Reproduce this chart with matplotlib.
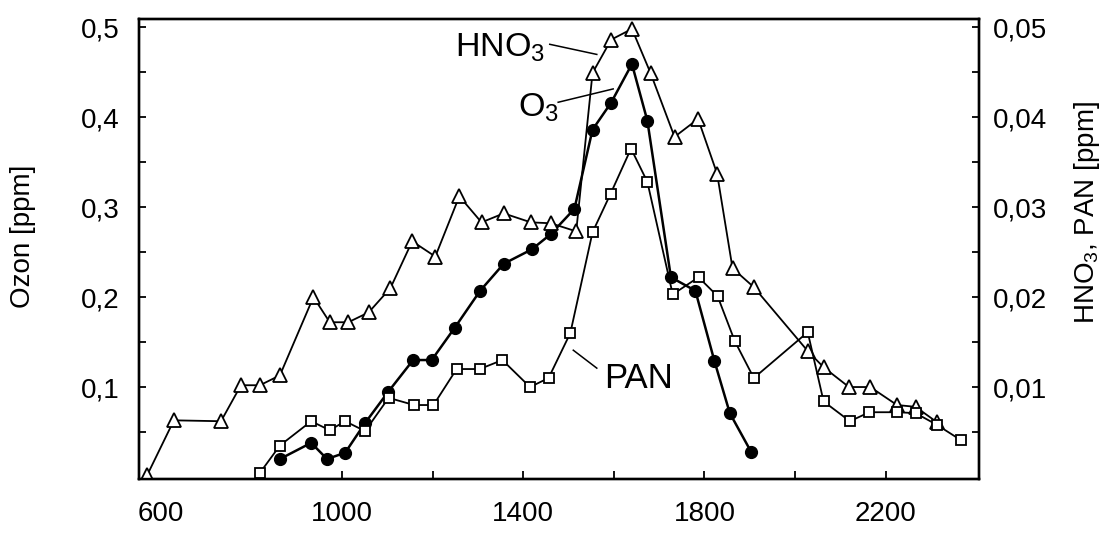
import matplotlib
matplotlib.use("Agg")
import matplotlib.pyplot as plt
from matplotlib.ticker import FixedLocator

plt.rcParams['font.family'] = ['Liberation Sans', 'DejaVu Sans']
plt.rcParams['mathtext.default'] = 'regular'

# Ozon (linke Achse, ppm)
o3_t = [863, 932, 967, 1007, 1051, 1101, 1157, 1198, 1249, 1305, 1357, 1419,
        1461, 1513, 1553, 1594, 1640, 1674, 1726, 1780, 1822, 1856, 1903]
o3 = [0.020, 0.038, 0.020, 0.027, 0.060, 0.094, 0.130, 0.130, 0.166, 0.207,
      0.237, 0.253, 0.270, 0.298, 0.386, 0.416, 0.459, 0.396, 0.222, 0.207,
      0.129, 0.071, 0.028]

# HNO3 (rechte Achse, ppm)
hno3_t = [570, 629, 733, 777, 819, 863, 937, 973, 1014, 1059, 1107, 1155,
          1206, 1259, 1308, 1357, 1417, 1461, 1517, 1553, 1594, 1640, 1681,
          1734, 1786, 1828, 1862, 1909, 2028, 2063, 2119, 2166, 2225, 2266, 2313]
hno3 = [0.0002, 0.0063, 0.0062, 0.0102, 0.0102, 0.0113, 0.0200, 0.0172,
        0.0172, 0.0183, 0.0210, 0.0262, 0.0245, 0.0312, 0.0283, 0.0293,
        0.0283, 0.0282, 0.0273, 0.0449, 0.0486, 0.0498, 0.0449, 0.0378,
        0.0398, 0.0337, 0.0232, 0.0211, 0.0140, 0.0122, 0.0100, 0.0100,
        0.0080, 0.0078, 0.0061]

# PAN (rechte Achse, ppm)
pan_t = [818, 863, 932, 973, 1007, 1051, 1103, 1159, 1202, 1253, 1304, 1354,
         1415, 1456, 1504, 1553, 1593, 1638, 1674, 1730, 1787, 1829, 1867,
         1909, 2028, 2063, 2121, 2164, 2225, 2266, 2313, 2366]
pan = [0.0004, 0.0035, 0.0062, 0.0052, 0.0062, 0.0051, 0.0088, 0.0080,
       0.0080, 0.0120, 0.0120, 0.0130, 0.0100, 0.0110, 0.0160, 0.0272,
       0.0315, 0.0365, 0.0328, 0.0203, 0.0222, 0.0201, 0.0151, 0.0110,
       0.0161, 0.0084, 0.0062, 0.0072, 0.0072, 0.0071, 0.0058, 0.0041]

x_ticks = [600, 1000, 1400, 1800, 2200]
x_minor = [1200, 1600, 2000]
y_ticks = [0.1, 0.2, 0.3, 0.4, 0.5]
y_labels = ['0,1', '0,2', '0,3', '0,4', '0,5']
y2_ticks = [0.01, 0.02, 0.03, 0.04, 0.05]
y2_labels = ['0,01', '0,02', '0,03', '0,04', '0,05']
y_minor = [0.05, 0.15, 0.25, 0.35, 0.45]

fig = plt.figure(figsize=(11.01, 5.33), dpi=100)
ax = fig.add_axes([139/1101, 1 - 479/533, 840/1101, 460/533])
ax2 = ax.twinx()

fs = 20
lw = 1.3

ax.plot(o3_t, o3, '-o', color='black', lw=1.8, ms=8.5, mfc='black', zorder=3)
ax2.plot(hno3_t, hno3, '-^', color='black', lw=lw, ms=9.5, mfc='white', mew=1.3)
ax2.plot(pan_t, pan, '-s', color='black', lw=lw, ms=7.5, mfc='white', mew=1.3)

ax.set_xlim(552, 2406)
ax.set_ylim(-0.0022, 0.509)
ax2.set_ylim(-0.00022, 0.0509)

ax.set_xticks(x_ticks)
ax.set_xticklabels([str(v) for v in x_ticks])
ax.xaxis.set_minor_locator(FixedLocator(x_minor))
ax.xaxis.get_major_ticks()[0].tick1line.set_visible(False)
ax.set_yticks(y_ticks)
ax.set_yticklabels(y_labels)
ax.yaxis.set_minor_locator(FixedLocator(y_minor))
ax2.set_yticks(y2_ticks)
ax2.set_yticklabels(y2_labels)
ax2.yaxis.set_minor_locator(FixedLocator([v / 10 for v in y_minor]))

ax.tick_params(axis='x', which='both', direction='in', top=False, length=6,
               width=1.3, labelsize=fs, pad=16)
ax.tick_params(axis='y', which='both', direction='in', right=False, length=5,
               width=1.3, labelsize=fs, pad=14)
ax2.tick_params(axis='y', which='both', direction='in', length=5, width=1.3,
                labelsize=fs, pad=10)
for a in (ax, ax2):
    for s in a.spines.values():
        s.set_linewidth(1.7)

fig.text(23/1101, 1 - 236/533, 'Ozon [ppm]', rotation=90, fontsize=fs,
         ha='center', va='center')
fig.text(1087/1101, 1 - 212/533, 'HNO$_3$, PAN [ppm]', rotation=90,
         fontsize=fs, ha='center', va='center')

# Beschriftungen der Kurven mit Hinweislinien
ax.text(0.376, 0.918, 'HNO$_3$', transform=ax.transAxes, fontsize=24.5,
        va='baseline', ha='left')
ax.plot([0.489, 0.545], [0.945, 0.923], transform=ax.transAxes, color='black', lw=1.1)
ax.text(0.451, 0.788, 'O$_3$', transform=ax.transAxes, fontsize=24.5,
        va='baseline', ha='left')
ax.plot([0.499, 0.5645], [0.819, 0.848], transform=ax.transAxes, color='black', lw=1.1)
ax.text(0.5536, 0.198, 'PAN', transform=ax.transAxes, fontsize=25,
        va='baseline', ha='left')
ax.plot([0.517, 0.545], [0.280, 0.241], transform=ax.transAxes, color='black', lw=1.1)

fig.savefig('out.png', dpi=100)
